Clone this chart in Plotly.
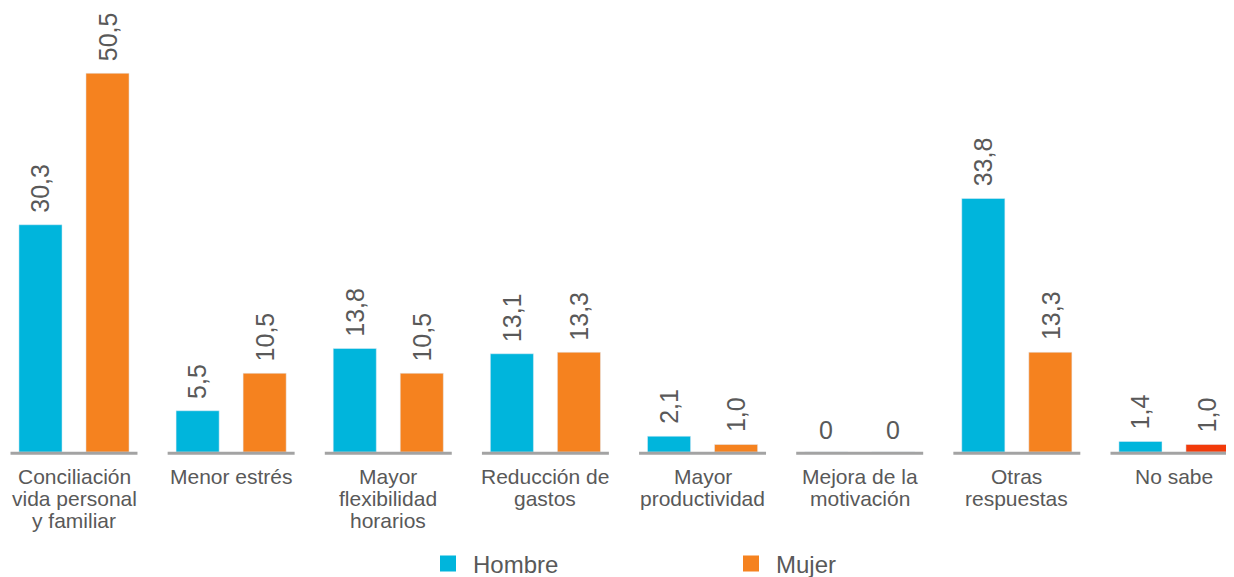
import plotly.graph_objects as go

categories = [
    "Conciliación<br>vida personal<br>y familiar",
    "Menor estrés",
    "Mayor<br>flexibilidad<br>horarios",
    "Reducción de<br>gastos",
    "Mayor<br>productividad",
    "Mejora de la<br>motivación",
    "Otras<br>respuestas",
    "No sabe",
]
hombre = [30.3, 5.5, 13.8, 13.1, 2.1, 0, 33.8, 1.4]
mujer = [50.5, 10.5, 10.5, 13.3, 1.0, 0, 13.3, 1.0]
series_names = ["Hombre", "Mujer"]

C_HOMBRE = "#00B5DC"
C_MUJER = "#F5821F"
C_MUJER_LAST = "#F23B0A"
TXT = "#595959"
FONT = "Liberation Sans"

n = len(categories)
xs = list(range(n))
half = 0.2132  # offset of each bar from category centre

fig = go.Figure()
fig.add_trace(go.Bar(x=xs, y=hombre, name=series_names[0], marker_color=C_HOMBRE,
                     showlegend=False, hoverinfo="skip"))
mujer_colors = [C_MUJER] * (n - 1) + [C_MUJER_LAST]
fig.add_trace(go.Bar(x=xs, y=mujer, name=series_names[1], marker_color=mujer_colors,
                     showlegend=False, hoverinfo="skip"))

# legend proxies
for name, col in zip(series_names, [C_HOMBRE, C_MUJER]):
    fig.add_trace(go.Scatter(x=[None], y=[None], mode="markers", name=name,
                             marker=dict(symbol="square", size=16, color=col)))

annotations = []
for vals, off in ((hombre, -half), (mujer, half)):
    for i, v in enumerate(vals):
        txt = f"{v:.1f}".replace(".", ",") if v != 0 else "0"
        rot = -90 if v != 0 else 0
        annotations.append(dict(
            x=i + off, y=v, xref="x", yref="y", text=txt, showarrow=False,
            textangle=rot, xanchor="center", yanchor="bottom",
            yshift=10 if v != 0 else 6,
            font=dict(family=FONT, size=25, color=TXT),
        ))

# category labels, one annotation per line
for i, lab in enumerate(categories):
    for j, line in enumerate(lab.split("<br>")):
        annotations.append(dict(
            x=i, y=0, xref="x", yref="y", text=line, showarrow=False,
            xanchor="center", yanchor="top", yshift=-11 - 22 * j,
            font=dict(family=FONT, size=21, color=TXT),
        ))

shapes = []
for i in xs:
    shapes.append(dict(type="line", xref="x", yref="y", x0=i - 0.404, x1=i + 0.404,
                       y0=-0.17, y1=-0.17,
                       line=dict(color="#A3A3A3", width=3), layer="above"))

fig.update_layout(
    width=1226, height=569,
    margin=dict(l=0, r=0, t=0, b=122, autoexpand=False),
    paper_bgcolor="white", plot_bgcolor="white",
    barmode="group", bargap=0.147, bargroupgap=0.357,
    xaxis=dict(range=[-0.420, 7.382], showgrid=False, zeroline=False,
               showticklabels=False, ticks="", fixedrange=True),
    yaxis=dict(range=[-0.4, 59.2], visible=False, fixedrange=True),
    showlegend=True,
    legend=dict(orientation="h", x=415 / 1226, xanchor="left", y=-0.2438, yanchor="middle",
                font=dict(family=FONT, size=24, color=TXT), entrywidth=248,
                itemwidth=40, bgcolor="rgba(0,0,0,0)"),
    annotations=annotations,
    shapes=shapes,
)

fig.write_html("out.html")
